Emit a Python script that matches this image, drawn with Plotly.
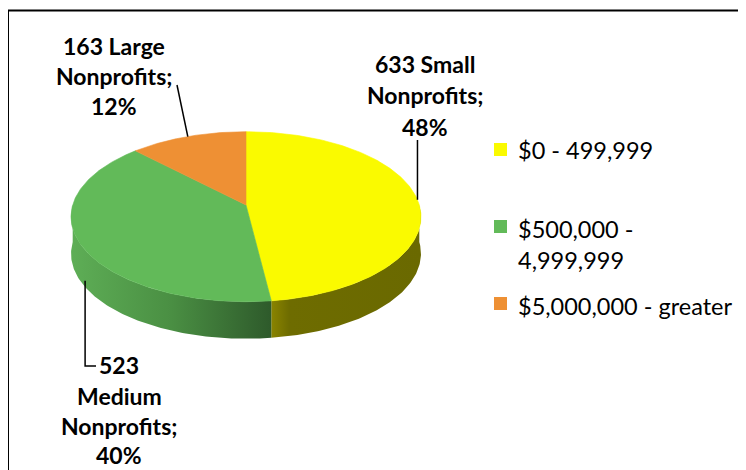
import numpy as np
import plotly.graph_objects as go

# ---------------- data ----------------
size_names = ["Small", "Medium", "Large"]
counts = [633, 523, 163]
legend_labels = ["$0 - 499,999", "$500,000 -<br>4,999,999", "$5,000,000 - greater"]

# ---------------- styles ----------------
TOP_COLORS = ["#FAFA00", "#62BA59", "#EE9034"]
SIDE_SCALES = [
    [[0, "#8a8400"], [0.12, "#6e6c00"], [1, "#6a6900"]],
    [[0, "#5eae56"], [0.5, "#4a8f43"], [1, "#2e5a2b"]],
    [[0, "#b06a25"], [1, "#8a5220"]],
]
FONT = "Lato, 'Open Sans', sans-serif"

W, H = 746, 470
BODY = 8  # default page margin around the plot div
# projected (perspective) pie geometry in page pixel units
CX, CY = 246.0, 205.0
S, T, K = 173.3, 83.4, 0.1376
DEPTH = 37.0


def rim(phi_deg):
    p = np.radians(np.asarray(phi_deg, dtype=float))
    u, v = np.sin(p), np.cos(p)
    w = 1 + K * v
    return CX + S * u / w, CY - T * v / w


total = sum(counts)
fracs = [c / total for c in counts]
bounds = np.concatenate([[0], np.cumsum(fracs) * 360])
pcts = [round(100 * f) for f in fracs]

fig = go.Figure()

# side walls (front half only)
for i in range(len(counts)):
    a, b = max(bounds[i], 90), min(bounds[i + 1], 270)
    if b <= a:
        continue
    ph = np.linspace(a, b, 120)
    x, y = rim(ph)
    xs = np.concatenate([x, x[::-1]])
    ys = np.concatenate([y, (y + DEPTH)[::-1]])
    fig.add_trace(go.Scatter(
        x=xs, y=ys, mode="lines", fill="toself", line=dict(width=0),
        fillgradient=dict(type="horizontal", colorscale=SIDE_SCALES[i]),
        hoverinfo="skip", showlegend=False))

# top faces
for i in range(len(counts)):
    ph = np.linspace(bounds[i], bounds[i + 1], 200)
    x, y = rim(ph)
    xs = np.concatenate([[CX], x, [CX]])
    ys = np.concatenate([[CY], y, [CY]])
    fig.add_trace(go.Scatter(
        x=xs, y=ys, mode="lines", fill="toself", fillcolor=TOP_COLORS[i],
        line=dict(width=0.6, color=TOP_COLORS[i]),
        hoverinfo="skip", showlegend=False))

# leader lines
mids = [(bounds[i] + bounds[i + 1]) / 2 for i in range(len(counts))]
mx, my = rim(mids)
leaders = [
    ([mx[0], mx[0]], [140, my[0]]),
    ([mx[1] + 5, mx[1] + 5, 96], [my[1] + DEPTH, 366, 366]),
    ([177, mx[2]], [85, my[2]]),
]
for lx, ly in leaders:
    fig.add_trace(go.Scatter(x=lx, y=ly, mode="lines",
                             line=dict(color="black", width=1.5),
                             hoverinfo="skip", showlegend=False))

# data labels
label_lines = [
    [f"{counts[0]} {size_names[0]}", "Nonprofits;", f"{pcts[0]}%"],
    [f"{counts[1]}", size_names[1], "Nonprofits;", f"{pcts[1]}%"],
    [f"{counts[2]} {size_names[2]}", "Nonprofits;", f"{pcts[2]}%"],
]
label_pos = [
    (425, [64, 95, 126.5]),
    (119, [365, 396, 426, 455]),
    (114, [46, 75.5, 105.5]),
]
for lines, (lx, ys) in zip(label_lines, label_pos):
    for txt, yy in zip(lines, ys):
        fig.add_annotation(x=lx, y=yy, text=f"<b>{txt}</b>", showarrow=False,
                           xanchor="center", yanchor="middle",
                           font=dict(family=FONT, size=23, color="black"))

# legend
leg_y = [149.5, 226.5, 303.5]
fig.add_trace(go.Scatter(x=[500.5] * 3, y=leg_y, mode="markers",
                         marker=dict(symbol="square", size=13, color=TOP_COLORS,
                                     line=dict(width=0)),
                         hoverinfo="skip", showlegend=False))
leg_text_y = [150, 244, 305.5]
for txt, yy in zip(legend_labels, leg_text_y):
    fig.add_annotation(x=516, y=yy, text=txt, showarrow=False,
                       xanchor="left", yanchor="middle", align="left",
                       font=dict(family=FONT, size=23.5, color="black"))

# chart border (cropped frame)
fig.add_shape(type="line", x0=8, x1=8, y0=10, y1=H + 5, xref="x", yref="y",
              line=dict(color="black", width=2))
fig.add_shape(type="line", x0=8, x1=W + 5, y0=10.5, y1=10.5, xref="x", yref="y",
              line=dict(color="black", width=2))

fig.update_layout(
    width=W - BODY, height=H - BODY, autosize=False,
    margin=dict(l=0, r=0, t=0, b=0),
    paper_bgcolor="white", plot_bgcolor="white",
    xaxis=dict(range=[BODY, W], visible=False, fixedrange=True),
    yaxis=dict(range=[H, BODY], visible=False, fixedrange=True),
    showlegend=False,
)

fig.write_html("out.html")
